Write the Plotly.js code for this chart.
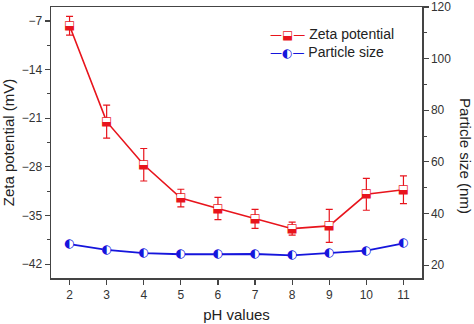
<!DOCTYPE html>
<html><head><meta charset="utf-8">
<script src="https://cdn.plot.ly/plotly-3.0.1.min.js"></script>
<style>html,body{margin:0;padding:0;background:#fff}#chart{width:474px;height:324px}</style>
</head><body><div id="chart"></div>
<script>
var phValues = [2, 3, 4, 5, 6, 7, 8, 9, 10, 11];
var zetaPotential = [-7.7, -21.5, -27.7, -32.5, -34.0, -35.5, -36.9, -36.5, -31.95, -31.3];
var zetaError = [1.34, 2.37, 2.34, 1.27, 1.6, 1.37, 0.93, 2.37, 2.3, 2.0];
var particleSize = [28.1, 25.9, 24.6, 24.2, 24.2, 24.3, 23.8, 24.7, 25.6, 28.4];
var seriesNames = ['Zeta potential', 'Particle size'];
var seriesGlyphs = ['\u2B13', '\u25D0'];

var red = '#e8141c', blue = '#1515dc', axisCol = '#444';
var seriesColors = [red, blue];
var glyphFont = 'DejaVu Sans';

var traces = [
  {
    x: phValues, y: zetaPotential, name: seriesNames[0], type: 'scatter', mode: 'lines+markers+text',
    line: {color: red, width: 1.6},
    marker: {symbol: 'square', size: 8, color: '#ffffff', line: {width: 0}},
    text: phValues.map(function(){return seriesGlyphs[0];}),
    textposition: 'middle center',
    textfont: {family: glyphFont, size: 12, color: red},
    error_y: {type: 'data', array: zetaError, visible: true, color: red, thickness: 1.2, width: 3.5},
    showlegend: false
  },
  {
    x: phValues, y: particleSize, name: seriesNames[1], type: 'scatter', mode: 'lines+markers+text',
    yaxis: 'y2',
    line: {color: blue, width: 1.8},
    marker: {symbol: 'circle', size: 8, color: '#ffffff', line: {width: 0}},
    text: phValues.map(function(){return seriesGlyphs[1];}),
    textposition: 'middle center',
    textfont: {family: glyphFont, size: 12, color: blue},
    showlegend: false
  }
];

var tickFont = {family: 'Liberation Sans, Arial, sans-serif', size: 12, color: '#333'};
var titleFont = {family: 'Liberation Sans, Arial, sans-serif', size: 15, color: '#222'};

var legendAnn = seriesNames.map(function(nm, i){
  return {
    text: '<span style="font-family:' + glyphFont + ';font-size:12px;color:' + seriesColors[i] + '">\u2014' + seriesGlyphs[i] + '\u2014</span> ' + nm,
    xref: 'paper', yref: 'paper', x: 0.585, y: 0.9 - i * 0.066, xanchor: 'left', yanchor: 'middle',
    showarrow: false, font: {family: 'Liberation Sans, Arial, sans-serif', size: 14, color: '#222'}
  };
});

var layout = {
  width: 474, height: 324,
  margin: {l: 51, r: 52, t: 7, b: 46},
  paper_bgcolor: '#fff', plot_bgcolor: '#fff',
  showlegend: false,
  xaxis: {
    range: [1.5, 11.5], tick0: 2, dtick: 1, ticks: 'outside', ticklen: 5, tickwidth: 1.2, tickcolor: axisCol,
    showline: true, linecolor: axisCol, linewidth: 1.5, mirror: true, showgrid: false, zeroline: false,
    tickfont: tickFont,
    title: {text: 'pH values', font: titleFont, standoff: 8}
  },
  yaxis: {
    range: [-44, -5], tick0: -7, dtick: 7, ticks: 'outside', ticklen: 5, tickwidth: 1.2, tickcolor: axisCol,
    minor: {dtick: 3.5, tick0: -7, ticks: 'outside', ticklen: 3, tickcolor: axisCol, tickwidth: 1},
    showline: true, linecolor: axisCol, linewidth: 1.5, showgrid: false, zeroline: false,
    tickfont: tickFont,
    title: {text: 'Zeta potential (mV)', font: titleFont, standoff: 6}
  },
  yaxis2: {
    overlaying: 'y', side: 'right',
    range: [15, 120], tick0: 20, dtick: 20, ticks: 'outside', ticklen: 5, tickwidth: 1.2, tickcolor: axisCol,
    minor: {dtick: 10, tick0: 20, ticks: 'outside', ticklen: 3, tickcolor: axisCol, tickwidth: 1},
    showline: true, linecolor: axisCol, linewidth: 1.5, showgrid: false, zeroline: false,
    tickfont: tickFont
  },
  annotations: legendAnn.concat([{
    text: 'Particle size (nm)', textangle: 90, xref: 'paper', yref: 'paper',
    x: 1, xshift: 44, y: 0.45, xanchor: 'center', yanchor: 'middle', showarrow: false,
    font: titleFont
  }])
};

Plotly.newPlot('chart', traces, layout, {staticPlot: true, displayModeBar: false});
</script></body></html>
